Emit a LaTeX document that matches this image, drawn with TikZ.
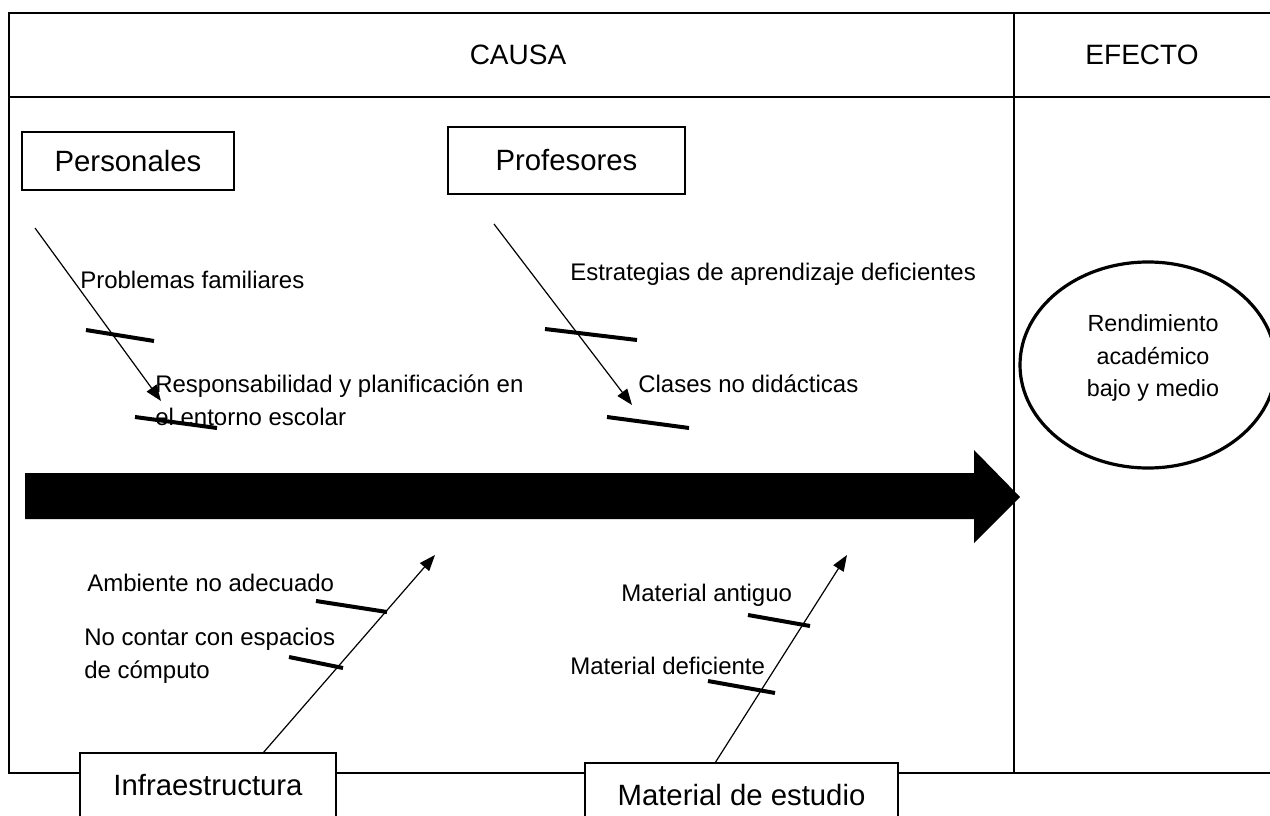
\documentclass[tikz,border=0pt]{standalone}
\usepackage{fontspec}
\setmainfont{Liberation Sans}
\usetikzlibrary{arrows.meta,shapes.geometric}
\begin{document}
\begin{tikzpicture}[x=0.75pt,y=-0.75pt,
  tbl/.style={line width=1.5pt},
  catbox/.style={draw,line width=0.9pt,fill=white,font=\fontsize{22}{26}\selectfont,inner sep=0pt},
  lbl/.style={anchor=west,align=left,inner sep=0pt,font=\fontsize{18}{24.75}\selectfont},
  spine/.style={line width=0.9pt,-{Triangle[length=12pt,width=9pt]}},
  tickbar/.style={line width=3pt},
  headtxt/.style={font=\fontsize{21}{25}\selectfont,inner sep=0pt}]
\useasboundingbox (0,0) rectangle (1270,816);
\clip (0,0) rectangle (1270,816);
% table
\draw[tbl] (1275,13) -- (9,13) -- (9,773) -- (1275,773);
\draw[tbl] (9,97) -- (1275,97);
\draw[tbl] (1014,13) -- (1014,773);
\node[headtxt] (causa) at (518,55) {CAUSA};
\node[headtxt] (efectoh) at (1142,55) {EFECTO};
% big arrow
\fill (25,473) -- (974,473) -- (974,450) -- (1020,497) -- (974,543) -- (974,519) -- (25,519) -- cycle;
% effect
\node[ellipse,draw,line width=2.4pt,minimum width=192pt,minimum height=154.5pt,inner sep=0pt] (efecto) at (1148,365) {};
\node[align=center,font=\fontsize{17.5}{24.4}\selectfont,inner sep=0pt] (efectotxt) at (1153,358) {Rendimiento\\académico\\bajo y medio};
% category boxes
\node[catbox,minimum width=159pt,minimum height=43.5pt] (pers) at (128,161) {Personales};
\node[catbox,minimum width=177.75pt,minimum height=50.25pt] (prof) at (566.5,160.5) {Profesores};
\node[catbox,minimum width=192pt,minimum height=48pt] (infra) at (208,785) {Infraestructura};
\node[catbox,minimum width=234.75pt,minimum height=48pt] (mat) at (741.5,795) {Material de estudio};
% spines
\coordinate (ps) at (35,228); \coordinate (pe) at (161,401);
\coordinate (qs) at (494,224); \coordinate (qe) at (632,405);
\coordinate (is) at (263,753); \coordinate (ie) at (435,555);
\coordinate (ms) at (715,763); \coordinate (me) at (847,555);
\draw[spine] (ps) -- (pe);
\draw[spine] (qs) -- (qe);
\draw[spine] (is) -- (ie);
\draw[spine] (ms) -- (me);
% ticks
\draw[tickbar] (86,330) -- (154,341);
\draw[tickbar] (135,417) -- (217,428);
\draw[tickbar] (545,329) -- (637,340);
\draw[tickbar] (607,417) -- (689,428);
\draw[tickbar] (316,601) -- (387,612);
\draw[tickbar] (289,657) -- (343,668);
\draw[tickbar] (748,615) -- (810,626);
\draw[tickbar] (708,681) -- (775,693);
% labels
\node[lbl] (l1) at (80,280) {Problemas familiares};
\node[lbl] (l2) at (155,400) {Responsabilidad y planificación en\\el entorno escolar};
\node[lbl] (l3) at (570,274) {Estrategias de aprendizaje deficientes};
\node[lbl] (l4) at (638,384) {Clases no didácticas};
\node[lbl] (l5) at (87,583) {Ambiente no adecuado};
\node[lbl] (l6) at (84,656) {No contar con espacios\\de cómputo};
\node[lbl] (l7) at (621,595) {Material antiguo};
\node[lbl] (l8) at (570,666) {Material deficiente};
\end{tikzpicture}
\end{document}
